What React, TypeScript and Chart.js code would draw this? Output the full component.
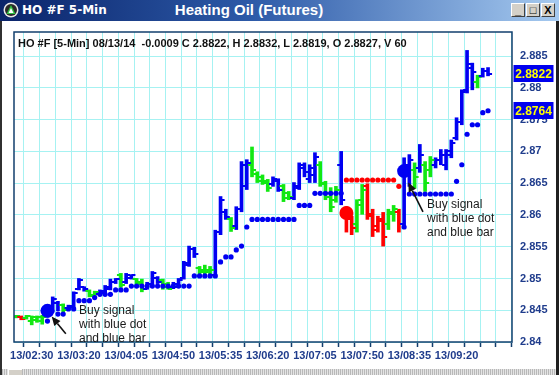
import React, { useEffect, useRef } from "react";
import { Chart, registerables } from "chart.js";

Chart.register(...registerables);

// ---------- DATA ----------
const tickIndex = [3, 12, 21, 30, 39, 48, 57, 66, 75, 84];
const tickLabels = ["13/02:30", "13/03:20", "13/04:05", "13/04:50", "13/05:35", "13/06:20", "13/07:05", "13/07:50", "13/08:35", "13/09:20"];
const minorTickIndex = [0, 6, 9, 15, 18, 24, 27, 33, 36, 42, 45, 51, 54, 60, 63, 69, 72, 78, 81, 87, 90, 93];
const yTicks = [2.84, 2.845, 2.85, 2.855, 2.86, 2.865, 2.87, 2.875, 2.88, 2.885];

// bar trend colour: B = blue (up), G = green (neutral), R = red (down)
const trend = [
  "G", "R", "G", "G", "G", "G", "B", "B", "B", "G",
  "B", "B", "B", "B", "G", "G", "B", "B", "B", "B",
  "G", "B", "B", "G", "G", "B", "B", "B", "G", "G",
  "B", "B", "B", "B", "B", "G", "G", "G", "B", "B",
  "B", "G", "B", "B", "B", "G", "G", "G", "G", "B",
  "B", "G", "G", "B", "B", "B", "B", "B", "G", "G",
  "G", "G", "B", "R", "R", "G", "G", "R", "R", "R",
  "R", "G", "G", "R", "B", "B", "G", "B", "G", "G",
  "B", "B", "B", "B", "B", "B", "B", "B", "G", "B", "B",
];

const highs = [
  2.8442, 2.8441, 2.8442, 2.8441, 2.8441, 2.8442, 2.8458, 2.8471, 2.8464, 2.8460,
  2.8458, 2.8479, 2.8500, 2.8487, 2.8482, 2.8480, 2.8482, 2.8489, 2.8499, 2.8500,
  2.8508, 2.8508, 2.8506, 2.8500, 2.8499, 2.8494, 2.8511, 2.8503, 2.8499, 2.8494,
  2.8494, 2.8500, 2.8527, 2.8551, 2.8549, 2.8519, 2.8521, 2.8519, 2.8576, 2.8629,
  2.8609, 2.8596, 2.8613, 2.8684, 2.8687, 2.8707, 2.8668, 2.8663, 2.8656, 2.8660,
  2.8657, 2.8648, 2.8637, 2.8651, 2.8682, 2.8682, 2.8679, 2.8698, 2.8684, 2.8653,
  2.8643, 2.8645, 2.8700, 2.8613, 2.8598, 2.8624, 2.8648, 2.8649, 2.8609, 2.8598,
  2.8604, 2.8609, 2.8615, 2.8609, 2.8690, 2.8695, 2.8682, 2.8711, 2.8684, 2.8692,
  2.8690, 2.8703, 2.8703, 2.8718, 2.8753, 2.8797, 2.8859, 2.8839, 2.8820, 2.8831, 2.8832,
];

const lows = [
  2.8438, 2.8435, 2.8436, 2.8427, 2.8431, 2.8428, 2.8439, 2.8447, 2.8449, 2.8447,
  2.8452, 2.8452, 2.8482, 2.8480, 2.8471, 2.8472, 2.8474, 2.8475, 2.8482, 2.8492,
  2.8486, 2.8492, 2.8499, 2.8487, 2.8479, 2.8483, 2.8487, 2.8492, 2.8483, 2.8483,
  2.8484, 2.8486, 2.8499, 2.8519, 2.8533, 2.8506, 2.8503, 2.8505, 2.8503, 2.8569,
  2.8593, 2.8574, 2.8577, 2.8605, 2.8640, 2.8660, 2.8651, 2.8648, 2.8637, 2.8645,
  2.8637, 2.8621, 2.8624, 2.8624, 2.8640, 2.8660, 2.8651, 2.8651, 2.8645, 2.8624,
  2.8605, 2.8620, 2.8616, 2.8573, 2.8569, 2.8573, 2.8601, 2.8593, 2.8566, 2.8573,
  2.8551, 2.8577, 2.8590, 2.8573, 2.8580, 2.8645, 2.8642, 2.8667, 2.8637, 2.8660,
  2.8674, 2.8679, 2.8671, 2.8690, 2.8718, 2.8742, 2.8792, 2.8797, 2.8800, 2.8817, 2.8819,
];

const opens = [
  2.8439, 2.8439, 2.8438, 2.8433, 2.8435, 2.8433, 2.8442, 2.8450, 2.8461, 2.8458,
  2.8453, 2.8455, 2.8483, 2.8486, 2.8480, 2.8474, 2.8475, 2.8477, 2.8484, 2.8494,
  2.8505, 2.8494, 2.8500, 2.8499, 2.8494, 2.8484, 2.8491, 2.8500, 2.8497, 2.8492,
  2.8486, 2.8487, 2.8500, 2.8522, 2.8546, 2.8517, 2.8514, 2.8513, 2.8506, 2.8573,
  2.8605, 2.8593, 2.8582, 2.8609, 2.8645, 2.8679, 2.8665, 2.8660, 2.8653, 2.8648,
  2.8654, 2.8645, 2.8634, 2.8627, 2.8643, 2.8674, 2.8656, 2.8663, 2.8679, 2.8649,
  2.8635, 2.8624, 2.8679, 2.8609, 2.8593, 2.8585, 2.8624, 2.8646, 2.8601, 2.8582,
  2.8593, 2.8585, 2.8605, 2.8605, 2.8585, 2.8671, 2.8671, 2.8674, 2.8679, 2.8671,
  2.8679, 2.8687, 2.8679, 2.8695, 2.8721, 2.8747, 2.8797, 2.8831, 2.8809, 2.8819, 2.8827,
];

const closes = [
  2.8441, 2.8436, 2.8441, 2.8439, 2.8439, 2.8439, 2.8457, 2.8468, 2.8458, 2.8450,
  2.8457, 2.8477, 2.8497, 2.8483, 2.8472, 2.8479, 2.8480, 2.8487, 2.8495, 2.8499,
  2.8489, 2.8505, 2.8505, 2.8491, 2.8483, 2.8491, 2.8508, 2.8495, 2.8486, 2.8484,
  2.8491, 2.8497, 2.8524, 2.8547, 2.8538, 2.8510, 2.8510, 2.8514, 2.8573, 2.8624,
  2.8596, 2.8580, 2.8609, 2.8679, 2.8681, 2.8671, 2.8654, 2.8651, 2.8643, 2.8656,
  2.8640, 2.8626, 2.8629, 2.8646, 2.8678, 2.8668, 2.8674, 2.8692, 2.8651, 2.8629,
  2.8613, 2.8640, 2.8624, 2.8601, 2.8580, 2.8616, 2.8640, 2.8598, 2.8577, 2.8590,
  2.8566, 2.8602, 2.8609, 2.8585, 2.8679, 2.8687, 2.8659, 2.8695, 2.8651, 2.8687,
  2.8686, 2.8695, 2.8700, 2.8714, 2.8747, 2.8794, 2.8837, 2.8825, 2.8817, 2.8826, 2.8822,
];

// trailing stop dots (null = no dot)
const stops = [
  null, null, null, null, null, null, 2.8433, null, 2.8444, 2.8444,
  2.8452, 2.8452, 2.8465, 2.8465, 2.8465, 2.8470, 2.8475, 2.8475, 2.8475, 2.8482,
  2.8482, 2.8482, 2.8488, 2.8488, 2.8488, 2.8488, 2.8488, 2.8488, 2.8488, 2.8488,
  2.8488, 2.8488, 2.8488, 2.8488, 2.8504, 2.8504, 2.8504, 2.8504, 2.8504, 2.8526,
  2.8534, 2.8534, 2.8545, 2.8551, 2.8581, 2.8593, 2.8593, 2.8593, 2.8593, 2.8593,
  2.8593, 2.8593, 2.8593, 2.8593, 2.8615, 2.8615, 2.8615, 2.8634, 2.8634, 2.8634,
  2.8634, 2.8634, 2.8634, 2.8655, 2.8655, 2.8655, 2.8655, 2.8655, 2.8655, 2.8655,
  2.8655, 2.8655, 2.8655, 2.8645, 2.8581, 2.8633, 2.8633, 2.8633, 2.8633, 2.8633,
  2.8633, 2.8633, 2.8633, 2.8633, 2.8653, 2.8679, 2.8727, 2.8742, 2.8742, 2.8761, 2.8764,
];
const stopTrend = [
  "B", "B", "B", "B", "B", "B", "B", "B", "B", "B",
  "B", "B", "B", "B", "B", "B", "B", "B", "B", "B",
  "B", "B", "B", "B", "B", "B", "B", "B", "B", "B",
  "B", "B", "B", "B", "B", "B", "B", "B", "B", "B",
  "B", "B", "B", "B", "B", "B", "B", "B", "B", "B",
  "B", "B", "B", "B", "B", "B", "B", "B", "B", "B",
  "B", "B", "B", "R", "R", "R", "R", "R", "R", "R",
  "R", "R", "R", "R", "B", "B", "B", "B", "B", "B",
  "B", "B", "B", "B", "B", "B", "B", "B", "B", "B", "B",
];

// big signal dots
const buySignalIndex = [6, 74];
const buySignalPrice = [2.8449, 2.8669];
const sellSignalIndex = [63];
const sellSignalPrice = [2.8603];

// annotation arrows (data coordinates: bar index, price)
const arrowTails = [[9.5, 2.8413], [77.6, 2.8605]];
const arrowHeads = [[6.8, 2.8440], [74.8, 2.8651]];

const BLUE = "#0000f2";
const GREEN = "#12e812";
const RED = "#ff0000";
const NAVY = "#123f6e";
const LABEL = "#1f3c8c";
const colorOf = (c: string) => (c === "B" ? BLUE : c === "G" ? GREEN : RED);

export default function App() {
  const ref = useRef<HTMLCanvasElement>(null);

  useEffect(() => {
    const canvas = ref.current;
    if (!canvas) return;

    const tickCache: Record<string, HTMLCanvasElement> = {};
    const makeTick = (color: string, side: string) => {
      const key = color + side;
      if (tickCache[key]) return tickCache[key];
      const cv = document.createElement("canvas");
      cv.width = 12;
      cv.height = 2;
      const c = cv.getContext("2d")!;
      c.fillStyle = color;
      if (side === "L") c.fillRect(2, 0, 4, 2);
      else c.fillRect(6, 0, 4, 2);
      tickCache[key] = cv;
      return cv;
    };

    const idx = highs.map((_, i) => i);
    const lastClose = closes[closes.length - 1];
    const lastStop = stops[stops.length - 1] as number;

    const decorPlugin = {
      id: "decor",
      afterDraw(chart: any) {
        const { ctx, chartArea: a, scales } = chart;
        const xs = scales.x;
        const ys = scales.y;
        ctx.save();
        // arrows
        ctx.strokeStyle = "#111";
        ctx.fillStyle = "#111";
        ctx.lineWidth = 1.6;
        arrowTails.forEach((t, k) => {
          const h = arrowHeads[k];
          const x1 = xs.getPixelForValue(t[0]);
          const y1 = ys.getPixelForValue(t[1]);
          const x2 = xs.getPixelForValue(h[0]);
          const y2 = ys.getPixelForValue(h[1]);
          const ang = Math.atan2(y2 - y1, x2 - x1);
          const hl = 9;
          const hw = 4;
          const bx = x2 - hl * Math.cos(ang);
          const by = y2 - hl * Math.sin(ang);
          ctx.beginPath();
          ctx.moveTo(x1, y1);
          ctx.lineTo(bx, by);
          ctx.stroke();
          ctx.beginPath();
          ctx.moveTo(x2, y2);
          ctx.lineTo(bx + hw * Math.sin(ang), by - hw * Math.cos(ang));
          ctx.lineTo(bx - hw * Math.sin(ang), by + hw * Math.cos(ang));
          ctx.closePath();
          ctx.fill();
        });
        // plot frame
        ctx.strokeStyle = NAVY;
        ctx.lineWidth = 1.5;
        ctx.strokeRect(a.left, a.top, a.right - a.left, a.bottom - a.top);
        // price boxes
        const boxes = [lastClose, lastStop];
        ctx.font = "bold 12px Arial, 'Liberation Sans', sans-serif";
        ctx.textAlign = "center";
        ctx.textBaseline = "middle";
        boxes.forEach((v) => {
          const y = ys.getPixelForValue(v);
          ctx.fillStyle = "#0000ee";
          ctx.fillRect(a.right + 1.5, Math.round(y - 8.5), 40, 17);
          ctx.fillStyle = "#ffff00";
          ctx.fillText(v.toFixed(4), a.right + 21.5, y + 0.5);
        });
        ctx.restore();
      },
    };

    const chart = new Chart(canvas, {
      type: "bar",
      data: {
        datasets: [
          {
            type: "bar",
            data: idx.map((i) => ({ x: i, y: [lows[i], highs[i]] })) as any,
            backgroundColor: trend.map(colorOf),
            barThickness: 3,
            grouped: false,
            borderWidth: 0,
            order: 5,
          } as any,
          {
            type: "scatter",
            data: idx.map((i) => ({ x: i, y: opens[i] })),
            pointStyle: trend.map((c) => makeTick(colorOf(c), "L")),
            pointRadius: 1,
            order: 4,
          } as any,
          {
            type: "scatter",
            data: idx.map((i) => ({ x: i, y: closes[i] })),
            pointStyle: trend.map((c) => makeTick(colorOf(c), "R")),
            pointRadius: 1,
            order: 4,
          } as any,
          {
            type: "scatter",
            data: idx.map((i) => ({ x: i, y: stops[i] })),
            pointRadius: 2.6,
            pointBorderWidth: 0,
            pointBackgroundColor: stopTrend.map(colorOf),
            order: 3,
          } as any,
          {
            type: "scatter",
            data: buySignalIndex.map((x, k) => ({ x, y: buySignalPrice[k] })),
            pointRadius: 7,
            pointBorderWidth: 0,
            pointBackgroundColor: BLUE,
            order: 1,
          } as any,
          {
            type: "scatter",
            data: sellSignalIndex.map((x, k) => ({ x, y: sellSignalPrice[k] })),
            pointRadius: 7,
            pointBorderWidth: 0,
            pointBackgroundColor: RED,
            order: 1,
          } as any,
        ],
      },
      options: {
        responsive: false,
        animation: false,
        devicePixelRatio: 1,
        events: [],
        layout: { padding: { left: 14, top: 32, right: 0, bottom: 0 } },
        plugins: { legend: { display: false }, tooltip: { enabled: false }, title: { display: false } },
        scales: {
          x: {
            type: "linear",
            offset: false,
            min: -0.38,
            max: 94.57,
            afterBuildTicks: (s: any) => {
              s.ticks = tickIndex
                .concat(minorTickIndex)
                .sort((a, b) => a - b)
                .map((v) => ({ value: v }));
            },
            afterFit: (s: any) => {
              s.height = 33;
            },
            grid: { color: "#a6f2f2", lineWidth: 1, drawTicks: true, tickLength: 5, tickColor: NAVY, tickWidth: 1.5 },
            border: { display: false },
            ticks: {
              autoSkip: false,
              maxRotation: 0,
              padding: 2,
              color: LABEL,
              font: { family: "Arial, 'Liberation Sans', sans-serif", size: 11, weight: "bold" },
              callback: (v: any) => {
                const k = tickIndex.indexOf(Number(v));
                return k >= 0 ? tickLabels[k] : "";
              },
            },
          },
          y: {
            type: "linear",
            position: "right",
            min: 2.84,
            max: 2.8888,
            afterBuildTicks: (s: any) => {
              s.ticks = yTicks.map((v) => ({ value: v }));
            },
            afterFit: (s: any) => {
              s.width = 47;
            },
            grid: { color: "#a6f2f2", lineWidth: 1, drawTicks: false },
            border: { display: false },
            ticks: {
              padding: 8,
              color: LABEL,
              font: { family: "Arial, 'Liberation Sans', sans-serif", size: 11, weight: "bold" },
              callback: (v: any) => String(Number(Number(v).toFixed(3))),
            },
          },
        },
      } as any,
      plugins: [decorPlugin],
    });

    return () => chart.destroy();
  }, []);

  const annot: React.CSSProperties = {
    position: "absolute",
    font: "12px Arial, 'Liberation Sans', sans-serif",
    lineHeight: "13.8px",
    color: "#1a1a1a",
    whiteSpace: "pre",
  };

  return (
    <div style={{ position: "fixed", left: 0, top: 0, width: 559, height: 375, background: "#fff", overflow: "hidden" }}>
      <canvas ref={ref} width={559} height={375} style={{ position: "absolute", left: 0, top: 0, width: 559, height: 375, display: "block" }} />
      {/* title bar */}
      <div
        style={{
          position: "absolute",
          left: 0,
          top: 0,
          width: 559,
          height: 21,
          background: "linear-gradient(to right, #0a246a 0%, #2d5aa8 45%, #a6caf0 100%)",
        }}
      >
        <svg width="16" height="16" style={{ position: "absolute", left: 3, top: 2 }}>
          <circle cx="8" cy="8" r="7.5" fill="#e8e8e8" />
          <circle cx="8" cy="8" r="6" fill="#2a2a2a" />
          <polygon points="8,3 12.5,12 3.5,12" fill="#2fbf3f" />
          <polygon points="8,6 10.5,11 5.5,11" fill="#ffffff" />
        </svg>
        <div style={{ position: "absolute", left: 22, top: 3, color: "#fff", font: "bold 12px Tahoma, 'DejaVu Sans', sans-serif", whiteSpace: "pre" }}>HO #F 5-Min</div>
        <div style={{ position: "absolute", left: 0, width: 498, top: 1, textAlign: "center", color: "#fff", font: "bold 15px Arial, 'Liberation Sans', sans-serif", whiteSpace: "pre" }}>
          Heating Oil (Futures)
        </div>
        {["_", "\u25A1", "X"].map((t, k) => (
          <div
            key={k}
            style={{
              position: "absolute",
              left: 511 + k * 15,
              top: 3,
              width: 14,
              height: 14,
              boxSizing: "border-box",
              background: "#d4d0c8",
              borderTop: "1px solid #fff",
              borderLeft: "1px solid #fff",
              borderRight: "1px solid #404040",
              borderBottom: "1px solid #404040",
              color: "#000",
              font: "bold 11px Arial, 'Liberation Sans', sans-serif",
              lineHeight: "12px",
              textAlign: "center",
            }}
          >
            {t}
          </div>
        ))}
      </div>
      {/* window frame */}
      <div style={{ position: "absolute", left: 0, top: 21, width: 2, height: 354, background: "#303030" }} />
      <div style={{ position: "absolute", right: 0, top: 21, width: 3, height: 354, background: "#202020" }} />
      <div
        style={{
          position: "absolute",
          left: 2,
          top: 369,
          width: 554,
          height: 6,
          background: "repeating-linear-gradient(90deg, #b8b8b8 0px, #b8b8b8 1px, #e4e4e4 1px, #e4e4e4 2px)",
        }}
      >
        <div style={{ position: "absolute", left: 6, top: 0, width: 14, height: 6, background: "#d4d0c8", borderTop: "1px solid #fff", borderLeft: "1px solid #fff", boxSizing: "border-box" }} />
      </div>
      {/* header text */}
      <div style={{ position: "absolute", left: 18, top: 37, color: "#111", font: "bold 11px Arial, 'Liberation Sans', sans-serif", whiteSpace: "pre" }}>
        HO #F [5-Min] 08/13/14  -0.0009 C 2.8822, H 2.8832, L 2.8819, O 2.8827, V 60
      </div>
      {/* annotations */}
      <div style={{ ...annot, left: 79, top: 304 }}>{"Buy signal\nwith blue dot\nand blue bar"}</div>
      <div style={{ ...annot, left: 427, top: 198 }}>{"Buy signal\nwith blue dot\nand blue bar"}</div>
    </div>
  );
}
